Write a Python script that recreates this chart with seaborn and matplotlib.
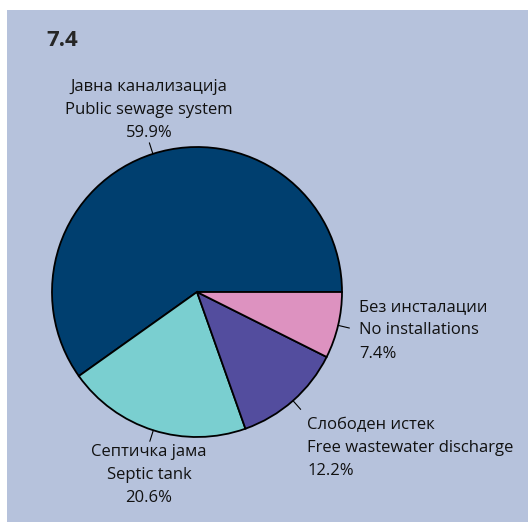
import numpy as np
import seaborn as sns
import matplotlib.pyplot as plt
from matplotlib.patches import Rectangle

# data
labels_mk = ['Јавна канализација', 'Септичка јама', 'Слободен истек', 'Без инсталации']
labels_en = ['Public sewage system', 'Septic tank', 'Free wastewater discharge', 'No installations']
shares = [59.9, 20.6, 12.2, 7.4]
colors = ['#003f6f', '#7acfd0', '#534d9e', '#dd92c0']

sns.set_theme(style='white')
plt.rcParams['font.family'] = ['Open Sans', 'DejaVu Sans']

fig = plt.figure(figsize=(5.28, 5.22), dpi=100, facecolor='white')
# background panel
fig.patches.append(Rectangle((7 / 528, 0), 1, 1 - 10 / 522, transform=fig.transFigure,
                             facecolor='#b6c2dc', edgecolor='none', zorder=-1))
fig.text(46 / 528, 1 - 40 / 522, '7.4', fontsize=16, fontweight='bold', va='center', ha='left')

ax = fig.add_axes([52 / 528, (522 - 292 - 145) / 522, 290 / 528, 290 / 522])
ax.set_facecolor('none')
wedges, _ = ax.pie(shares, colors=colors, startangle=0, counterclock=True,
                   wedgeprops=dict(edgecolor='black', linewidth=1.3))
ax.set_xlim(-1, 1)
ax.set_ylim(-1, 1)
ax.axis('off')

# label placement: (text radius, ha, va)
place = [(1.09, 'center', 'bottom'), (1.10, 'center', 'top'),
         (1.15, 'left', 'top'), (1.15, 'left', 'center')]
for w, mk, en, v, (rt, ha, va) in zip(wedges, labels_mk, labels_en, shares, place):
    th = np.deg2rad((w.theta1 + w.theta2) / 2)
    c, s = np.cos(th), np.sin(th)
    ax.plot([c, 1.08 * c], [s, 1.08 * s], color='black', lw=0.8, clip_on=False)
    ax.text(rt * c, rt * s, f'{mk}\n{en}\n{v}%', ha=ha, va=va, multialignment=ha,
            fontsize=12, linespacing=1.6, color='#111111', clip_on=False)

fig.savefig('out.png', dpi=100, facecolor='white')
